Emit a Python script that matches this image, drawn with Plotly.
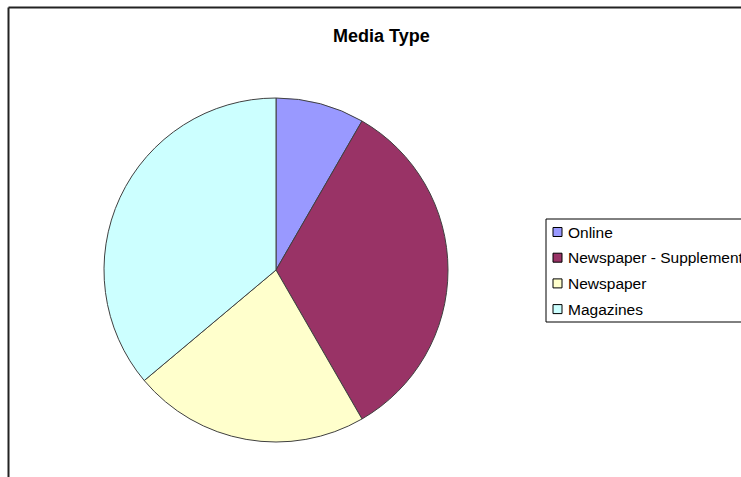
import plotly.graph_objects as go

W, H = 741, 477

labels = ["Online", "Newspaper - Supplement", "Newspaper", "Magazines"]
values = [3, 12, 8, 13]
colors = ["#9999FF", "#993366", "#FFFFCC", "#CCFFFF"]
title_text = "Media Type"

def px(x):
    return x / W

def py(y):
    return 1 - y / H

cx, cy, r = 276, 270, 172
FONT = "Liberation Sans, Arial, sans-serif"

fig = go.Figure()
fig.add_trace(go.Pie(
    labels=labels,
    values=values,
    sort=False,
    direction="clockwise",
    rotation=0,
    marker=dict(colors=colors, line=dict(color="#404040", width=1)),
    textinfo="none",
    hoverinfo="label+value+percent",
    showlegend=False,
    domain=dict(x=[px(cx - r), px(cx + r)], y=[py(cy + r), py(cy - r)]),
))

shapes = [
    # chart area border (top and left visible; right/bottom run off the page)
    dict(type="line", xref="paper", yref="paper", x0=px(8.5), x1=px(780), y0=py(7.5), y1=py(7.5),
         line=dict(color="#222222", width=2)),
    dict(type="line", xref="paper", yref="paper", x0=px(8.5), x1=px(8.5), y0=py(7.5), y1=py(520),
         line=dict(color="#222222", width=2)),
    # legend box
    dict(type="rect", xref="paper", yref="paper", x0=px(546), x1=px(780), y0=py(219), y1=py(322),
         line=dict(color="#000000", width=1), fillcolor="rgba(0,0,0,0)"),
]
annotations = []
row0, step = 232, 25.7
for i, (lab, col) in enumerate(zip(labels, colors)):
    yc = row0 + i * step
    shapes.append(dict(type="rect", xref="paper", yref="paper",
                       x0=px(553), x1=px(562), y0=py(yc + 4.5), y1=py(yc - 4.5),
                       line=dict(color="#000000", width=1), fillcolor=col))
    annotations.append(dict(text=lab, xref="paper", yref="paper", x=px(566), y=py(yc),
                            xanchor="left", yanchor="middle", showarrow=False,
                            font=dict(family=FONT, size=15.5, color="#000000")))

annotations.append(dict(text="<b>" + title_text + "</b>", xref="paper", yref="paper",
                        x=px(381), y=py(36), xanchor="center", yanchor="middle", showarrow=False,
                        font=dict(family=FONT, size=18, color="#000000")))

fig.update_layout(
    width=W, height=H,
    margin=dict(l=0, r=0, t=0, b=0),
    paper_bgcolor="white",
    plot_bgcolor="white",
    shapes=shapes,
    annotations=annotations,
    showlegend=False,
)

fig.write_html(
    "out.html",
    config={"displayModeBar": False},
    post_script="document.body.style.margin='0';document.body.style.overflow='hidden';",
)
